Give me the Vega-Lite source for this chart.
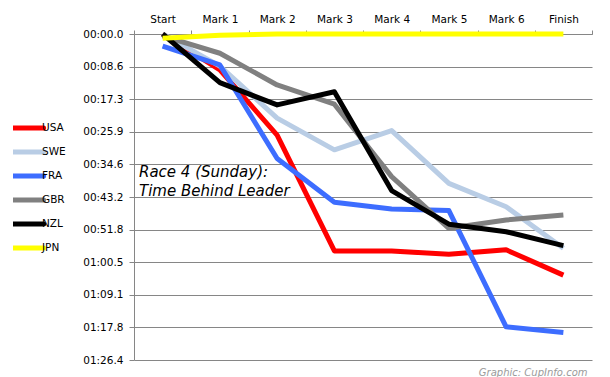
{
  "$schema": "https://vega.github.io/schema/vega-lite/v6.json",
  "width": 458,
  "height": 326,
  "autosize": {"type": "none"},
  "padding": {"left": 134, "top": 34, "right": 18, "bottom": 17},
  "background": "white",
  "config": {"view": {"stroke": null}, "font": "DejaVu Sans", "axis": {"labelOverlap": false, "labelBound": false}},
  "title": {"text": "Graphic: CupInfo.com", "orient": "bottom", "anchor": "end", "fontSize": 10, "fontStyle": "italic", "fontWeight": "normal", "color": "#9a9a9a", "offset": 2, "dx": -5, "font": "DejaVu Sans"},
  "layer": [
    {
      "data": {"values": [
        {"t": "USA", "m": "Start", "i": 0, "s": 0},
        {"t": "USA", "m": "Mark 1", "i": 1, "s": 9.5},
        {"t": "USA", "m": "Mark 2", "i": 2, "s": 26.8},
        {"t": "USA", "m": "Mark 3", "i": 3, "s": 57.5},
        {"t": "USA", "m": "Mark 4", "i": 4, "s": 57.5},
        {"t": "USA", "m": "Mark 5", "i": 5, "s": 58.4},
        {"t": "USA", "m": "Mark 6", "i": 6, "s": 57.2},
        {"t": "USA", "m": "Finish", "i": 7, "s": 63.9},
        {"t": "SWE", "m": "Start", "i": 0, "s": 0},
        {"t": "SWE", "m": "Mark 1", "i": 1, "s": 8.5},
        {"t": "SWE", "m": "Mark 2", "i": 2, "s": 22.3},
        {"t": "SWE", "m": "Mark 3", "i": 3, "s": 30.7},
        {"t": "SWE", "m": "Mark 4", "i": 4, "s": 25.6},
        {"t": "SWE", "m": "Mark 5", "i": 5, "s": 39.6},
        {"t": "SWE", "m": "Mark 6", "i": 6, "s": 45.8},
        {"t": "SWE", "m": "Finish", "i": 7, "s": 56.8},
        {"t": "FRA", "m": "Start", "i": 0, "s": 3.2},
        {"t": "FRA", "m": "Mark 1", "i": 1, "s": 8.2},
        {"t": "FRA", "m": "Mark 2", "i": 2, "s": 33.0},
        {"t": "FRA", "m": "Mark 3", "i": 3, "s": 44.6},
        {"t": "FRA", "m": "Mark 4", "i": 4, "s": 46.4},
        {"t": "FRA", "m": "Mark 5", "i": 5, "s": 46.8},
        {"t": "FRA", "m": "Mark 6", "i": 6, "s": 77.6},
        {"t": "FRA", "m": "Finish", "i": 7, "s": 79.1},
        {"t": "GBR", "m": "Start", "i": 0, "s": 0.5},
        {"t": "GBR", "m": "Mark 1", "i": 1, "s": 5.1},
        {"t": "GBR", "m": "Mark 2", "i": 2, "s": 13.5},
        {"t": "GBR", "m": "Mark 3", "i": 3, "s": 18.6},
        {"t": "GBR", "m": "Mark 4", "i": 4, "s": 37.8},
        {"t": "GBR", "m": "Mark 5", "i": 5, "s": 51.5},
        {"t": "GBR", "m": "Mark 6", "i": 6, "s": 49.3},
        {"t": "GBR", "m": "Finish", "i": 7, "s": 48.0},
        {"t": "NZL", "m": "Start", "i": 0, "s": 0},
        {"t": "NZL", "m": "Mark 1", "i": 1, "s": 12.9},
        {"t": "NZL", "m": "Mark 2", "i": 2, "s": 18.8},
        {"t": "NZL", "m": "Mark 3", "i": 3, "s": 15.3},
        {"t": "NZL", "m": "Mark 4", "i": 4, "s": 41.5},
        {"t": "NZL", "m": "Mark 5", "i": 5, "s": 50.4},
        {"t": "NZL", "m": "Mark 6", "i": 6, "s": 52.4},
        {"t": "NZL", "m": "Finish", "i": 7, "s": 56.1},
        {"t": "JPN", "m": "Start", "i": 0, "s": 1.1},
        {"t": "JPN", "m": "Mark 1", "i": 1, "s": 0.3},
        {"t": "JPN", "m": "Mark 2", "i": 2, "s": 0},
        {"t": "JPN", "m": "Mark 3", "i": 3, "s": 0},
        {"t": "JPN", "m": "Mark 4", "i": 4, "s": 0},
        {"t": "JPN", "m": "Mark 5", "i": 5, "s": 0},
        {"t": "JPN", "m": "Mark 6", "i": 6, "s": 0},
        {"t": "JPN", "m": "Finish", "i": 7, "s": 0}
      ]},
      "mark": {"type": "line", "strokeWidth": 5, "strokeJoin": "round"},
      "encoding": {
        "x": {
          "field": "m", "type": "ordinal",
          "scale": {"type": "band", "domain": ["Start", "Mark 1", "Mark 2", "Mark 3", "Mark 4", "Mark 5", "Mark 6", "Finish"], "paddingInner": 0, "paddingOuter": 0},
          "axis": {"orient": "top", "title": null, "labelAngle": 0, "tickBand": "extent", "grid": false, "domainColor": "#868686", "tickColor": "#868686", "tickSize": 4, "labelPadding": 6, "labelFontSize": 10.5, "labelColor": "black", "labelFont": "DejaVu Sans"}
        },
        "y": {
          "field": "s", "type": "quantitative",
          "scale": {"domain": [0, 86.4], "reverse": true, "nice": false, "zero": false},
          "axis": {"title": null, "values": [0, 8.64, 17.28, 25.92, 34.56, 43.2, 51.84, 60.48, 69.12, 77.76, 86.4], "tickCount": 20, "labelExpr": "format(floor(datum.value/60),'02d') + ':' + format(datum.value % 60, '04.1f')", "labelOverlap": false, "grid": true, "gridColor": "#868686", "gridOpacity": 1, "domainColor": "#868686", "tickColor": "#868686", "tickSize": 5, "labelPadding": 6, "labelFontSize": 10.5, "labelColor": "black", "labelFont": "DejaVu Sans"}
        },
        "color": {
          "field": "t", "type": "nominal",
          "scale": {"domain": ["USA", "SWE", "FRA", "GBR", "NZL", "JPN"], "range": ["#ff0000", "#b9cde5", "#3d6dff", "#808080", "#000000", "#ffff00"]},
          "legend": {"orient": "none", "legendX": -121, "legendY": 86, "title": null, "padding": 0, "symbolType": "M-2.6,0H2.6", "symbolSize": 240, "symbolStrokeWidth": 5, "labelOffset": 8, "labelFontSize": 10.5, "labelFont": "DejaVu Sans", "labelColor": "black", "clipHeight": 16, "rowPadding": 8, "encode": {"symbols": {"update": {"strokeCap": {"value": "round"}}}}}
        },
        "order": {"field": "i", "type": "quantitative"}
      }
    },
    {
      "data": {"values": [{"m": "Start", "s": 36.6, "label": ["Race 4 (Sunday):", "Time Behind Leader"]}]},
      "mark": {"type": "text", "align": "left", "baseline": "middle", "fontStyle": "italic", "fontSize": 15, "lineHeight": 18.5, "dx": 5, "font": "DejaVu Sans", "color": "black"},
      "encoding": {
        "x": {"field": "m", "type": "ordinal", "bandPosition": 0},
        "y": {"field": "s", "type": "quantitative"},
        "text": {"field": "label"}
      }
    }
  ]
}
